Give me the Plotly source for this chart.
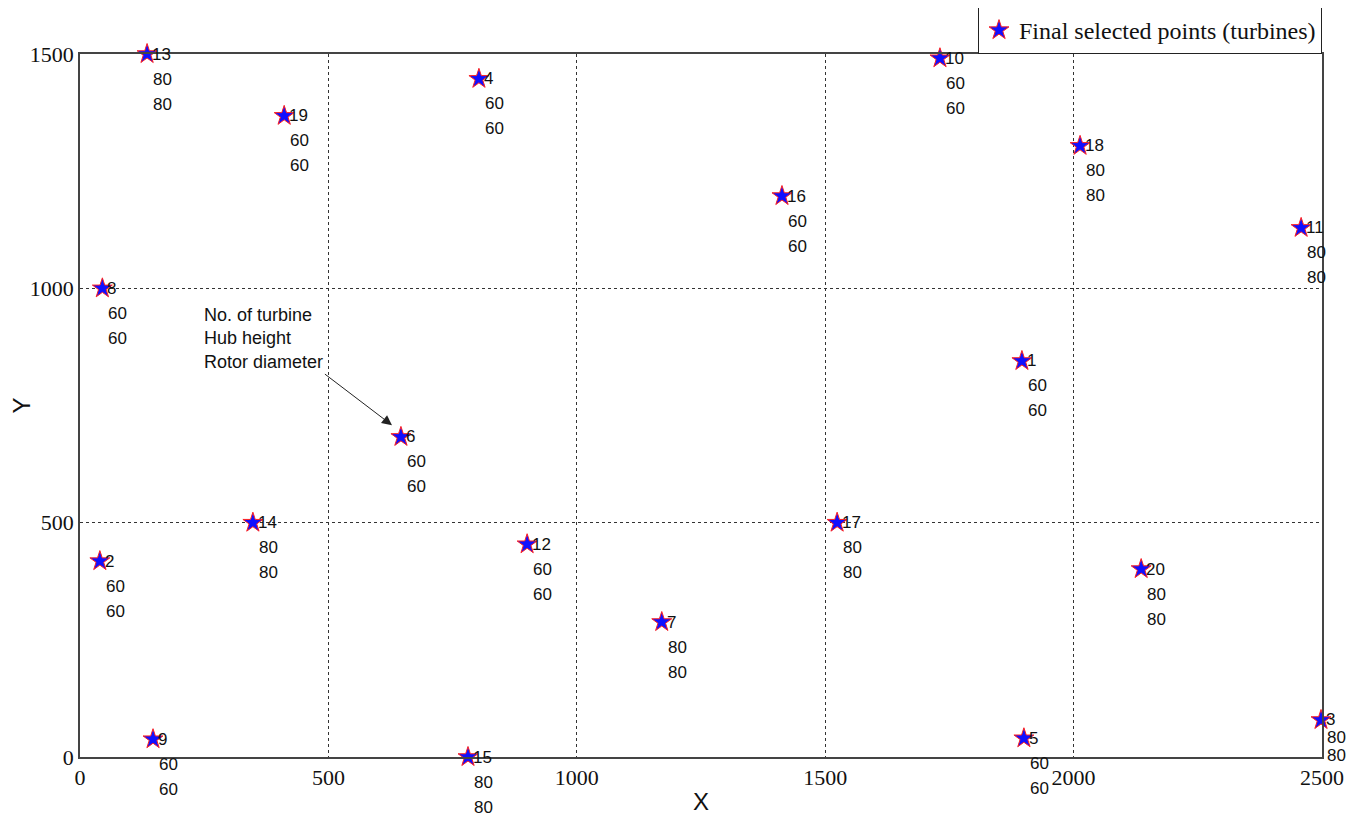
import plotly.graph_objects as go

turbine_ids = [13, 19, 4, 10, 18, 16, 11, 8, 1, 6, 14, 17, 12, 2, 20, 7, 9, 15, 5, 3]
x_pos = [135, 411, 803, 1731, 2013, 1413, 2458, 45, 1896, 646, 348, 1524, 900, 40, 2136, 1171, 147, 781, 1900, 2498]
y_pos = [1500, 1368, 1447, 1491, 1304, 1197, 1129, 1000, 845, 683, 500, 500, 454, 418, 401, 288, 38, 0, 40, 79]
hub_height = [80, 60, 60, 60, 80, 60, 80, 60, 60, 60, 80, 80, 60, 60, 80, 80, 60, 80, 60, 80]
rotor_diam = [80, 60, 60, 60, 80, 60, 80, 60, 60, 60, 80, 80, 60, 60, 80, 80, 60, 80, 60, 80]

x_ticks = [0, 500, 1000, 1500, 2000, 2500]
y_ticks = [0, 500, 1000, 1500]

label_font = dict(family="Liberation Sans Narrow, Arial Narrow, Liberation Sans, Arial, sans-serif",
                  size=17, color="#111111")
serif = "Liberation Serif, Times New Roman, serif"

fig = go.Figure()
fig.add_trace(go.Scatter(
    x=x_pos, y=y_pos, mode="markers",
    name="Final selected points (turbines)",
    marker=dict(symbol="star", size=15, color="#1010ff",
                line=dict(color="#ff2020", width=1)),
    cliponaxis=False,
))

annotations = []
for i, tid in enumerate(turbine_ids):
    lines = [str(tid), str(hub_height[i]), str(rotor_diam[i])]
    gap = 18 if tid == 3 else 25
    for k, t in enumerate(lines):
        annotations.append(dict(
            x=x_pos[i], y=y_pos[i], xref="x", yref="y", text=t,
            showarrow=False, xanchor="left", yanchor="middle",
            xshift=3 if k == 0 else 4, yshift=-gap * k, font=label_font,
        ))

# explanatory note with arrow pointing to turbine 6
annotations.append(dict(
    x=628, y=708, ax=493, ay=817, axref="x", ayref="y", xref="x", yref="y",
    text="No. of turbine<br>Hub height<br>Rotor diameter",
    showarrow=True, arrowhead=2, arrowsize=2, arrowwidth=1, arrowcolor="#222222",
    xanchor="right", yanchor="bottom", align="left",
    font=dict(family=label_font["family"], size=18, color="#111111"),
    standoff=0,
))

# the page body adds an 8px margin; compensate so the plot area lands at the reference pixels
fig.update_layout(
    width=1349, height=809,
    margin=dict(l=72, r=35, t=46, b=60, autoexpand=False),
    paper_bgcolor="white", plot_bgcolor="white",
    showlegend=True,
    legend=dict(x=1, y=1, xanchor="right", yanchor="bottom",
                bgcolor="white", bordercolor="#222222", borderwidth=1,
                font=dict(family=serif, size=24, color="#111111"),
                itemsizing="trace"),
    annotations=annotations,
    xaxis=dict(range=[0, 2500], tickvals=x_ticks, ticktext=[str(v) for v in x_ticks],
               showgrid=True, gridcolor="#333333", griddash="dot", gridwidth=1,
               showline=True, linecolor="#444444", linewidth=1.5, mirror=True,
               zeroline=False, ticks="", automargin=False,
               tickfont=dict(family=serif, size=22, color="#111111"),
               title=dict(text="X", font=dict(family="Liberation Sans, Arial, sans-serif",
                                              size=24, color="#111111"), standoff=4)),
    yaxis=dict(range=[0, 1500], tickvals=y_ticks, ticktext=[str(v) for v in y_ticks],
               showgrid=True, gridcolor="#333333", griddash="dot", gridwidth=1,
               showline=True, linecolor="#444444", linewidth=1.5, mirror=True,
               zeroline=False, ticks="", automargin=False,
               tickfont=dict(family=serif, size=22, color="#111111"),
               title=dict(text="Y", font=dict(family="Liberation Sans, Arial, sans-serif",
                                              size=24, color="#111111"), standoff=10)),
)

fig.write_html("out.html")
